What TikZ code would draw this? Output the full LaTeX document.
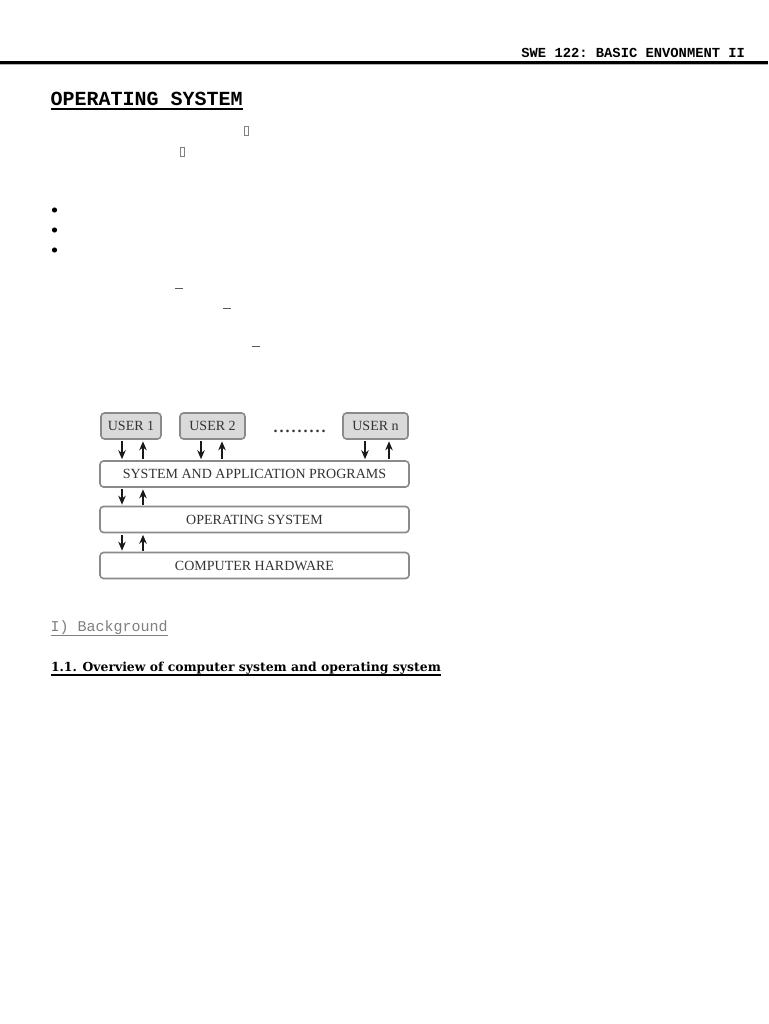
\documentclass[tikz,border=0pt]{standalone}
\usepackage{fontspec}
\setmainfont{Liberation Serif}
\setmonofont{Liberation Mono}
\newfontfamily\secfont{DejaVu Serif}
\usetikzlibrary{arrows.meta}
\definecolor{boxgray}{HTML}{DADADA}
\definecolor{edgegray}{HTML}{8A8A8A}
\definecolor{txtgray}{HTML}{333333}
\tikzset{
  userbox/.style={draw=edgegray, line width=1.6pt, fill=boxgray, rounded corners=3.5pt, minimum height=26pt, inner sep=0pt, font=\fontsize{14pt}{16pt}\selectfont, text=txtgray},
  layerbox/.style={draw=edgegray, line width=1.6pt, fill=white, rounded corners=3.5pt, minimum width=309pt, minimum height=26pt, inner sep=0pt, font=\fontsize{14pt}{16pt}\selectfont, text=txtgray},
  arr/.style={-{Stealth[length=9pt,width=7.5pt]}, line width=1.5pt, black!90},
  plain/.style={inner sep=0pt, outer sep=0pt},
  glyphbox/.style={draw=gray, line width=0.6pt},
}
\newcommand{\dd}{.\kern2pt}
\begin{document}
\begin{tikzpicture}[x=1pt,y=-1pt]
\useasboundingbox (0,0) rectangle (768,1024);
\fill[white] (0,0) rectangle (768,1024);
% header
\node[plain, anchor=base east, font=\ttfamily\bfseries\fontsize{13.8pt}{15pt}\selectfont] (hdr) at (745,57.5) {SWE 122: BASIC ENVONMENT II};
\draw[line width=3pt] (0,62.5) -- (768,62.5);
\draw[gray!60, line width=1pt] (0,65) -- (768,65);
% title
\node[plain, anchor=base west, font=\ttfamily\bfseries\fontsize{20pt}{22pt}\selectfont] (title) at (50.5,106) {OPERATING SYSTEM};
\draw[line width=2pt] (title.base west |- 0,109.5) -- (title.base east |- 0,109.5);
% missing glyph boxes
\draw[glyphbox] (244,126.5) rectangle (248.5,135.5);
\draw[glyphbox] (180,147.5) rectangle (184.5,156.5);
% bullets
\fill (54.5,210) circle (2.6);
\fill (54.5,230) circle (2.6);
\fill (54.5,250) circle (2.6);
% dashes
\draw[gray!70!black, line width=1pt] (175,288.5) -- (183,288.5);
\draw[gray!70!black, line width=1pt] (223,308) -- (231,308);
\draw[gray!70!black, line width=1pt] (252,346) -- (260,346);
% diagram
\node[userbox, minimum width=60pt] (u1) at (131,426) {USER 1};
\node[userbox, minimum width=65pt] (u2) at (212.5,426) {USER 2};
\node[userbox, minimum width=65pt] (un) at (375.5,426) {USER n};
\node[plain, font=\bfseries\fontsize{16pt}{16pt}\selectfont, text=txtgray] (dots) at (299.5,431) {\dd\dd\dd\dd\dd\dd\dd\dd.};
\node[layerbox] (sap) at (254.5,474) {SYSTEM AND APPLICATION PROGRAMS};
\node[layerbox] (os) at (254.5,519.5) {OPERATING SYSTEM};
\node[layerbox] (hw) at (254.5,565.5) {COMPUTER HARDWARE};
\coordinate (c1) at (122,0);
\coordinate (c2) at (143,0);
\coordinate (c3) at (201,0);
\coordinate (c4) at (222,0);
\coordinate (c5) at (365,0);
\coordinate (c6) at (389,0);
\draw[arr, shorten <=1.5pt, shorten >=1pt] (u1.south -| c1) -- (sap.north -| c1);
\draw[arr, shorten <=1pt, shorten >=1.5pt] (sap.north -| c2) -- (u1.south -| c2);
\draw[arr, shorten <=1.5pt, shorten >=1pt] (u2.south -| c3) -- (sap.north -| c3);
\draw[arr, shorten <=1pt, shorten >=1.5pt] (sap.north -| c4) -- (u2.south -| c4);
\draw[arr, shorten <=1.5pt, shorten >=1pt] (un.south -| c5) -- (sap.north -| c5);
\draw[arr, shorten <=1pt, shorten >=1.5pt] (sap.north -| c6) -- (un.south -| c6);
\draw[arr, shorten <=1.5pt, shorten >=1pt] (sap.south -| c1) -- (os.north -| c1);
\draw[arr, shorten <=1pt, shorten >=1.5pt] (os.north -| c2) -- (sap.south -| c2);
\draw[arr, shorten <=1.5pt, shorten >=1pt] (os.south -| c1) -- (hw.north -| c1);
\draw[arr, shorten <=1pt, shorten >=1.5pt] (hw.north -| c2) -- (os.south -| c2);
% background heading
\node[plain, anchor=base west, text=gray, font=\ttfamily\fontsize{15pt}{17pt}\selectfont] (bg) at (50.5,631.5) {I) Background};
\draw[gray, line width=1pt] (bg.base west |- 0,635) -- (bg.base east |- 0,635);
% section heading
\node[plain, anchor=base west, font=\secfont\bfseries\fontsize{12.4pt}{15pt}\selectfont] (sec) at (51,671.5) {1.1. Overview of computer system and operating system};
\draw[line width=1.2pt] (sec.base west |- 0,675) -- (sec.base east |- 0,675);
\end{tikzpicture}
\end{document}
